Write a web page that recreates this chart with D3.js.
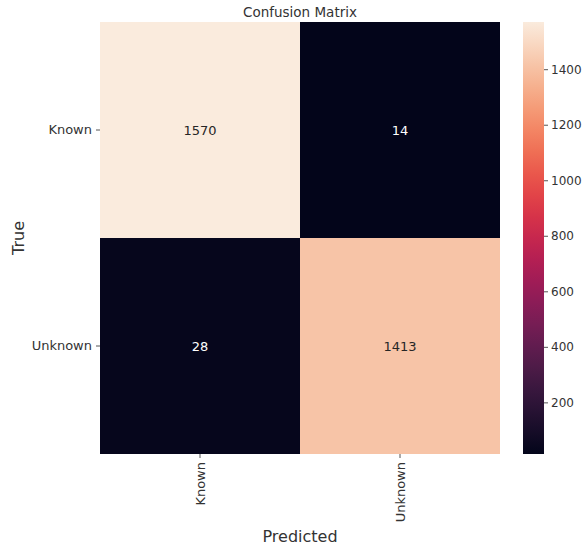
<!DOCTYPE html>
<html>
<head>
<meta charset="utf-8">
<script src="https://cdn.jsdelivr.net/npm/d3@7"></script>
<style>
  body { margin: 0; background: #fff; }
  svg text { font-family: "DejaVu Sans", sans-serif; fill: #333; }
  .axis path { display: none; }
  .axis line { stroke: #555; }
</style>
</head>
<body>
<div id="chart"></div>
<script>
// Data
const predictedLabels = ["Known", "Unknown"];
const trueLabels = ["Known", "Unknown"];
const matrixValues = [
    [1570, 14],
    [28, 1413]
];
const colorbarTicks = [200, 400, 600, 800, 1000, 1200, 1400];

// seaborn "rocket" colormap samples
const rocketStops = ["#03051a", "#35193e", "#701f57", "#ad1759", "#e13342", "#f37651", "#f6b48f", "#faebdd"];

const W = 582, H = 547;
const margin = { top: 22, left: 100 };
const hmWidth = 400, hmHeight = 432;

const svg = d3.select("#chart").append("svg")
    .attr("width", W)
    .attr("height", H);

const cells = [];
matrixValues.forEach((row, i) => row.forEach((v, j) => {
    cells.push({ row: trueLabels[i], col: predictedLabels[j], value: v });
}));

const vmin = d3.min(cells, d => d.value), vmax = d3.max(cells, d => d.value);

const rocket = d3.interpolateRgbBasis(rocketStops);
const color = d3.scaleSequential(rocket).domain([vmin, vmax]);

const x = d3.scaleBand().domain(predictedLabels).range([margin.left, margin.left + hmWidth]);
const y = d3.scaleBand().domain(trueLabels).range([margin.top, margin.top + hmHeight]);

// cells
svg.selectAll(".cell")
    .data(cells)
    .enter().append("rect")
    .attr("class", "cell")
    .attr("x", d => x(d.col))
    .attr("y", d => y(d.row))
    .attr("width", x.bandwidth())
    .attr("height", y.bandwidth())
    .attr("fill", d => color(d.value));

// annotations
svg.selectAll(".annot")
    .data(cells)
    .enter().append("text")
    .attr("class", "annot")
    .attr("x", d => x(d.col) + x.bandwidth() / 2)
    .attr("y", d => y(d.row) + y.bandwidth() / 2)
    .attr("text-anchor", "middle")
    .attr("dominant-baseline", "central")
    .style("font-size", "13px")
    .style("fill", d => d3.hsl(color(d.value)).l > 0.5 ? "#262626" : "#ffffff")
    .text(d => d.value);

// x axis
const xAxis = svg.append("g")
    .attr("class", "axis")
    .attr("transform", "translate(0," + (margin.top + hmHeight) + ")")
    .call(d3.axisBottom(x).tickSize(4).tickPadding(4));
xAxis.selectAll("text")
    .style("font-size", "13px")
    .attr("transform", "rotate(-90)")
    .attr("text-anchor", "end")
    .attr("x", -8)
    .attr("y", 0)
    .attr("dy", "0.35em");

// y axis
const yAxis = svg.append("g")
    .attr("class", "axis")
    .attr("transform", "translate(" + margin.left + ",0)")
    .call(d3.axisLeft(y).tickSize(4).tickPadding(4));
yAxis.selectAll("text").style("font-size", "13px");

// labels
svg.append("text")
    .attr("x", margin.left + hmWidth / 2)
    .attr("y", 17)
    .attr("text-anchor", "middle")
    .style("font-size", "13.5px")
    .text("Confusion Matrix");

svg.append("text")
    .attr("x", margin.left + hmWidth / 2)
    .attr("y", 542)
    .attr("text-anchor", "middle")
    .style("font-size", "16px")
    .text("Predicted");

svg.append("text")
    .attr("transform", "translate(24," + (margin.top + hmHeight / 2) + ") rotate(-90)")
    .attr("text-anchor", "middle")
    .style("font-size", "16px")
    .text("True");

// colorbar
const cbX = 523, cbW = 21;
const cbScale = d3.scaleLinear().domain([vmin, vmax]).range([margin.top + hmHeight, margin.top]);

const defs = svg.append("defs");
const grad = defs.append("linearGradient")
    .attr("id", "cbGrad")
    .attr("x1", 0).attr("y1", 1).attr("x2", 0).attr("y2", 0);
d3.range(0, 1.0001, 0.05).forEach(t => {
    grad.append("stop")
        .attr("offset", t)
        .attr("stop-color", rocket(t));
});

svg.append("rect")
    .attr("x", cbX)
    .attr("y", margin.top)
    .attr("width", cbW)
    .attr("height", hmHeight)
    .attr("fill", "url(#cbGrad)");

const cbAxis = svg.append("g")
    .attr("class", "axis")
    .attr("transform", "translate(" + (cbX + cbW) + ",0)")
    .call(d3.axisRight(cbScale).tickValues(colorbarTicks).tickFormat(d3.format("d")).tickSize(4).tickPadding(3));
cbAxis.selectAll("text").style("font-size", "12px");
</script>
</body>
</html>
